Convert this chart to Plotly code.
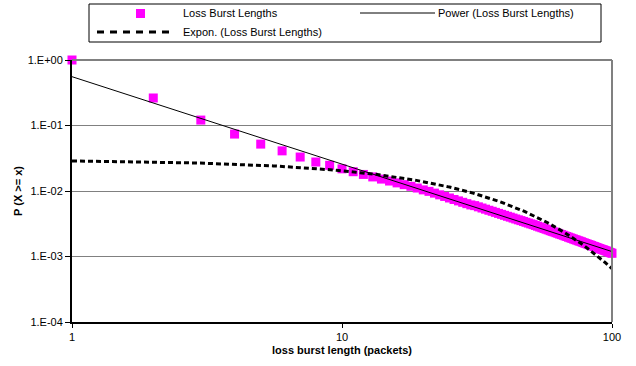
import numpy as np
import plotly.graph_objects as go

burst_length = list(range(1, 101))
ccdf = [
    1.0, 0.263, 0.121, 0.074, 0.052, 0.041, 0.033, 0.0277, 0.0247, 0.0218,
    0.0197, 0.0179, 0.0164, 0.0152, 0.0142, 0.0133, 0.0125, 0.0118, 0.0111, 0.0104,
    0.00987, 0.00928, 0.00874, 0.00826, 0.00782, 0.00742, 0.00706, 0.00672, 0.00641, 0.00613,
    0.00598, 0.00573, 0.00550, 0.00528, 0.00508, 0.00490, 0.00472, 0.00455, 0.00440, 0.00425,
    0.00411, 0.00399, 0.00386, 0.00374, 0.00363, 0.00353, 0.00343, 0.00333, 0.00324, 0.00315,
    0.00307, 0.00298, 0.00290, 0.00282, 0.00275, 0.00268, 0.00261, 0.00255, 0.00248, 0.00242,
    0.00237, 0.00231, 0.00226, 0.00220, 0.00216, 0.00211, 0.00206, 0.00202, 0.00197, 0.00193,
    0.00189, 0.00185, 0.00181, 0.00178, 0.00174, 0.00171, 0.00168, 0.00164, 0.00161, 0.00158,
    0.00155, 0.00152, 0.00150, 0.00147, 0.00144, 0.00142, 0.00139, 0.00137, 0.00134, 0.00132,
    0.00130, 0.00128, 0.00126, 0.00124, 0.00122, 0.00120, 0.00118, 0.00116, 0.00114, 0.00112,
]
y_tickvals = [1, 0.1, 0.01, 0.001, 0.0001]
y_ticktext = ["1.E+00", "1.E-01", "1.E-02", "1.E-03", "1.E-04"]
x_tickvals = [1, 10, 100]
x_ticktext = ["1", "10", "100"]

series_name = "Loss Burst Lengths"
power_name = "Power (Loss Burst Lengths)"
expon_name = "Expon. (Loss Burst Lengths)"

# trendlines fitted to the data (as the spreadsheet does)
x = np.array(burst_length, dtype=float)
y = np.array(ccdf, dtype=float)
pb, pa = np.polyfit(np.log(x), np.log(y), 1)
eb, ea = np.polyfit(x, np.log(y), 1)
xf = np.linspace(1, 100, 500)
power_fit = np.exp(pa) * xf ** pb
expon_fit = np.exp(ea) * np.exp(eb * xf)

FONT = "Liberation Sans, Arial, sans-serif"

fig = go.Figure()
fig.add_trace(go.Scatter(x=burst_length, y=ccdf, mode="markers", name=series_name,
                         marker=dict(symbol="square", size=9, color="#FF00FF", line=dict(width=0)),
                         cliponaxis=False))
fig.add_trace(go.Scatter(x=xf, y=power_fit, mode="lines", name=power_name,
                         line=dict(color="black", width=1)))
fig.add_trace(go.Scatter(x=xf, y=expon_fit, mode="lines", name=expon_name,
                         line=dict(color="black", width=3, dash="5px,3px")))

L, R, T, B = 72, 612, 60, 322
W, H = 636, 366

def px(xp):
    return (xp - L) / (R - L)

def py(yp):
    return (B - yp) / (B - T)

shapes = [
    # plot-area top and right borders
    dict(type="line", xref="paper", yref="paper", x0=0, x1=1, y0=1, y1=1,
         line=dict(color="#808080", width=2)),
    dict(type="line", xref="paper", yref="paper", x0=1, x1=1, y0=0, y1=1,
         line=dict(color="#808080", width=2)),
    # legend box
    dict(type="rect", xref="paper", yref="paper", x0=px(89), x1=px(601), y0=py(42), y1=py(4),
         line=dict(color="black", width=1), fillcolor="white"),
    dict(type="rect", xref="paper", yref="paper", x0=px(136), x1=px(145), y0=py(18), y1=py(9),
         line=dict(width=0), fillcolor="#FF00FF"),
    dict(type="line", xref="paper", yref="paper", x0=px(360), x1=px(435), y0=py(13), y1=py(13),
         line=dict(color="black", width=1)),
    dict(type="line", xref="paper", yref="paper", x0=px(97), x1=px(171), y0=py(32), y1=py(32),
         line=dict(color="black", width=3, dash="7px,6px")),
]

annotations = [
    dict(text=series_name, xref="paper", yref="paper", x=px(181), y=py(13), xanchor="left",
         yanchor="middle", showarrow=False, font=dict(family=FONT, size=11, color="black")),
    dict(text=power_name, xref="paper", yref="paper", x=px(436), y=py(13), xanchor="left",
         yanchor="middle", showarrow=False, font=dict(family=FONT, size=11, color="black")),
    dict(text=expon_name, xref="paper", yref="paper", x=px(181), y=py(32), xanchor="left",
         yanchor="middle", showarrow=False, font=dict(family=FONT, size=11, color="black")),
]

fig.update_layout(
    width=W, height=H,
    margin=dict(l=L, r=W - R, t=T, b=H - B, pad=0),
    paper_bgcolor="white", plot_bgcolor="white",
    showlegend=False,
    font=dict(family=FONT, size=11, color="black"),
    shapes=shapes, annotations=annotations,
    xaxis=dict(type="log", range=[0, 2], tickvals=x_tickvals, ticktext=x_ticktext,
               showgrid=False, zeroline=False, showline=True, linecolor="black", linewidth=2,
               ticks="outside", ticklen=4, tickcolor="black", tickwidth=1,
               title=dict(text="<b>loss burst length (packets)</b>", standoff=4,
                          font=dict(family=FONT, size=11))),
    yaxis=dict(type="log", range=[-4, 0], tickvals=y_tickvals, ticktext=y_ticktext,
               showgrid=True, gridcolor="#808080", gridwidth=1, zeroline=False,
               showline=True, linecolor="black", linewidth=2,
               ticks="outside", ticklen=5, tickcolor="black", tickwidth=1,
               title=dict(text="<b>P (X >= x)</b>", standoff=3,
                          font=dict(family=FONT, size=11))),
)

fig.write_html("out.html", config={"displayModeBar": False},
               post_script="document.body.style.margin='0';document.body.style.overflow='hidden';")
